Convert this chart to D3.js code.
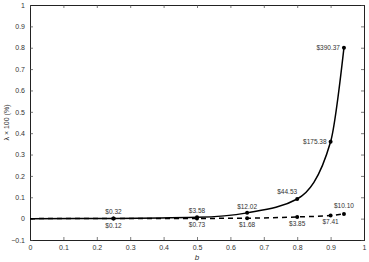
<!DOCTYPE html>
<html>
<head>
<meta charset="utf-8">
<script src="https://cdn.jsdelivr.net/npm/d3@7"></script>
<style>
  body { margin: 0; background: #fff; }
  text { font-family: "Liberation Sans", Arial, sans-serif; }
</style>
</head>
<body>
<div id="chart"></div>
<script>
'use strict';

/******************** chart data ********************/

var bValues      = [0, 0.25, 0.5, 0.65, 0.8, 0.9, 0.94];
var solidValues  = [0, 0.001, 0.006, 0.027, 0.092, 0.36, 0.80];
var dashedValues = [0, 0.0005, 0.001, 0.002, 0.008, 0.015, 0.022];
var solidLabels  = ["", "$0.32", "$3.58", "$12.02", "$44.53", "$175.38", "$390.37"];
var dashedLabels = ["", "$0.12", "$0.73", "$1.68", "$3.85", "$7.41", "$10.10"];
var solidPlace   = ["", "above", "above", "above", "aboveLeft", "left", "left"];
var dashedPlace  = ["", "below", "below", "below", "below", "below", "aboveRight"];

var xTicks = [0, 0.1, 0.2, 0.3, 0.4, 0.5, 0.6, 0.7, 0.8, 0.9, 1];
var yTicks = [-0.1, 0, 0.1, 0.2, 0.3, 0.4, 0.5, 0.6, 0.7, 0.8, 0.9, 1];

/******************** layout ********************/

var width = 369, height = 262;
var margin = {top: 5, right: 5, bottom: 22, left: 30};
var innerW = width - margin.left - margin.right;
var innerH = height - margin.top - margin.bottom;

var svg = d3.select("#chart").append("svg")
  .attr("width", width).attr("height", height);

var g = svg.append("g").attr("transform", "translate(" + margin.left + "," + margin.top + ")");

var x = d3.scaleLinear().domain([0, 1]).range([0, innerW]);
var y = d3.scaleLinear().domain([-0.1, 1]).range([innerH, 0]);

/******************** axes ********************/

var fmt = function(d) { return d === 0 ? "0" : (d < 0 ? "\u22120.1" : (d === 1 ? "1" : d3.format(".1f")(d))); };

var xAxis = g.append("g").attr("transform", "translate(0," + innerH + ")")
  .call(d3.axisBottom(x).tickValues(xTicks).tickSize(-3).tickPadding(5).tickFormat(fmt));
var yAxis = g.append("g")
  .call(d3.axisLeft(y).tickValues(yTicks).tickSize(-3).tickPadding(5).tickFormat(fmt));
var xTop = g.append("g")
  .call(d3.axisTop(x).tickValues(xTicks).tickSize(-3).tickFormat(""));
var yRight = g.append("g").attr("transform", "translate(" + innerW + ",0)")
  .call(d3.axisRight(y).tickValues(yTicks).tickSize(-3).tickFormat(""));

[xAxis, yAxis, xTop, yRight].forEach(function(a) {
  a.select(".domain").attr("stroke", "#222").attr("stroke-width", 1);
  a.selectAll(".tick line").attr("stroke", "#444").attr("stroke-width", 0.7);
  a.selectAll(".tick text").attr("font-size", 7).attr("fill", "#333")
    .style("font-family", "'Liberation Sans', Arial, sans-serif");
});

svg.append("text")
  .attr("transform", "translate(9," + (margin.top + y(0.45)) + ") rotate(-90)")
  .attr("text-anchor", "middle")
  .attr("font-size", 7).attr("fill", "#333")
  .text("\u03bb \u00d7 100 (%)");

svg.append("text")
  .attr("x", margin.left + x(0.5)).attr("y", 260)
  .attr("text-anchor", "middle")
  .attr("font-size", 8).attr("font-style", "italic").attr("fill", "#333")
  .text("b");

/******************** series ********************/

function drawSeries(values, labels, place, dash) {
  var pts = bValues.map(function(b, i) { return {b: b, v: values[i], label: labels[i], place: place[i]}; });

  g.append("path")
    .datum(pts)
    .attr("fill", "none")
    .attr("stroke", "#000")
    .attr("stroke-width", 1.5)
    .attr("stroke-dasharray", dash ? "5,4" : null)
    .attr("d", d3.line().curve(d3.curveMonotoneX)
      .x(function(d) { return x(d.b); })
      .y(function(d) { return y(d.v); }));

  var marked = pts.filter(function(d) { return d.label !== ""; });

  g.selectAll(null).data(marked).enter().append("circle")
    .attr("cx", function(d) { return x(d.b); })
    .attr("cy", function(d) { return y(d.v); })
    .attr("r", 2)
    .attr("fill", "#000");

  g.selectAll(null).data(marked).enter().append("text")
    .attr("font-size", 6.5).attr("fill", "#333")
    .attr("x", function(d) {
      var px = x(d.b);
      if (d.place === "left") return px - 4;
      if (d.place === "aboveLeft") return px - 10;
      return px;
    })
    .attr("y", function(d) {
      var py = y(d.v);
      if (d.place === "above") return py - 4;
      if (d.place === "aboveLeft") return py - 5;
      if (d.place === "aboveRight") return py - 6;
      if (d.place === "below") return py + 9;
      return py + 2.5;
    })
    .attr("text-anchor", function(d) { return d.place === "left" ? "end" : "middle"; })
    .text(function(d) { return d.label; });
}

drawSeries(dashedValues, dashedLabels, dashedPlace, true);
drawSeries(solidValues, solidLabels, solidPlace, false);
</script>
</body>
</html>
